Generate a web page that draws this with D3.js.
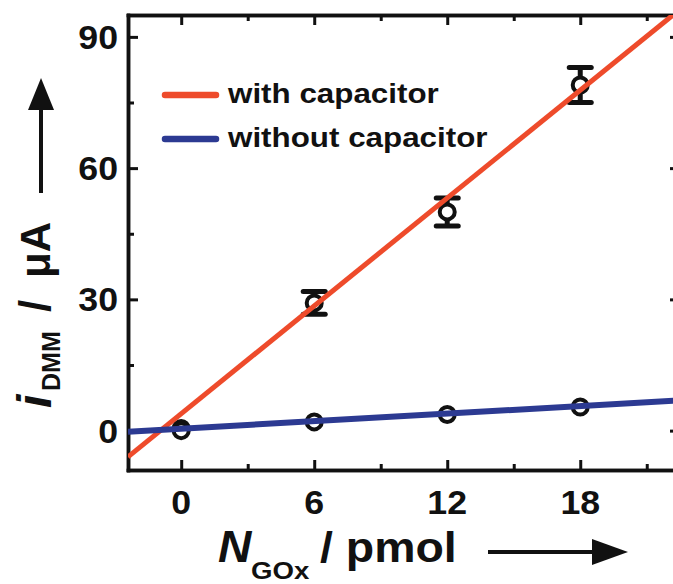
<!DOCTYPE html>
<html>
<head>
<meta charset="utf-8">
<script src="https://cdn.jsdelivr.net/npm/d3@7"></script>
<style>
body { margin: 0; background: #fff; }
text { font-family: "Liberation Sans", Arial, sans-serif; font-weight: bold; fill: #111; }
</style>
</head>
<body>
<script>
// values
var nGOx = [0, 6, 12, 18];
var withCap = [0.5, 29.2, 50, 79];
var withCapErr = [0, 2.6, 3.2, 4];
var withoutCap = [0, 2, 3.7, 5.4];
// fitted lines, end points as read at the plot edges
var fitX = [-2.4, 22.5];
var withCapFit = [-6, 96.3];
var withoutCapFit = [-0.25, 6.9];
var xTicks = [0, 6, 12, 18];
var xMinor = [3, 9, 15, 21];
var yTicks = [0, 30, 60, 90];
var yMinor = [15, 45, 75];
var seriesNames = ["with capacitor", "without capacitor"];
var seriesColors = ["#ee4b2b", "#2c3a92"];

var W = 673, H = 584;

var svg = d3.select("body").append("svg")
    .attr("width", W)
    .attr("height", H);

var x = d3.scaleLinear().domain([-2.4, 22.5]).range([128, 680]);
var y = d3.scaleLinear().domain([-9, 95]).range([470, 15]);

// text helper (sx = horizontal stretch, text in the figure is a bit wide)
function label(g, px, py, str, size, anchor, sx, extra) {
    return g.append("text")
        .attr("transform", "translate(" + px + "," + py + ") " + (extra || "") + " scale(" + (sx || 1) + ",1)")
        .attr("font-size", size)
        .attr("text-anchor", anchor || "start")
        .text(str);
}

//axes, ticks pointing inwards
function styleAxis(g) {
    g.selectAll("text").remove();
    g.select(".domain").attr("stroke", "#111").attr("stroke-width", 3.5).attr("stroke-linecap", "square");
    g.selectAll(".tick line").attr("stroke", "#111").attr("stroke-width", 3);
}
var axes = [
    [d3.axisBottom, "translate(0,470)", x, xTicks, xMinor],
    [d3.axisTop, "translate(0,15)", x, xTicks, xMinor],
    [d3.axisLeft, "translate(128,0)", y, yTicks, yMinor],
    [d3.axisRight, "translate(680,0)", y, yTicks, yMinor]
];
axes.forEach(function(a) {
    svg.append("g").attr("transform", a[1])
        .call(a[0](a[2]).tickValues(a[4]).tickSize(-6).tickSizeOuter(0).tickFormat(""))
        .call(styleAxis);
    svg.append("g").attr("transform", a[1])
        .call(a[0](a[2]).tickValues(a[3]).tickSize(-10).tickSizeOuter(0).tickFormat(""))
        .call(styleAxis);
});

// tick labels
var labels = svg.append("g");
xTicks.forEach(function(v) { label(labels, x(v), 514, v, 34, "middle", 1.05); });
yTicks.forEach(function(v) { label(labels, 118, y(v) + 12, v, 34, "end", 1.05); });

// plot content
svg.append("clipPath").attr("id", "plotclip")
  .append("rect")
    .attr("x", x.range()[0]).attr("y", y.range()[1])
    .attr("width", x.range()[1] - x.range()[0])
    .attr("height", y.range()[0] - y.range()[1]);

var plot = svg.append("g").attr("clip-path", "url(#plotclip)");

// error bars
var errData = nGOx.map(function(d, i) { return {x: d, v: withCap[i], e: withCapErr[i]}; })
    .filter(function(d) { return d.e > 0; });
var eb = plot.selectAll(".eb").data(errData).enter().append("g")
    .attr("stroke", "#111").attr("stroke-width", 5);
eb.append("line")
    .attr("x1", function(d) { return x(d.x); }).attr("x2", function(d) { return x(d.x); })
    .attr("y1", function(d) { return y(d.v - d.e); }).attr("y2", function(d) { return y(d.v + d.e); });
[-1, 1].forEach(function(s) {
    eb.append("line")
        .attr("stroke-linecap", "round")
        .attr("x1", function(d) { return x(d.x) - 11; }).attr("x2", function(d) { return x(d.x) + 11; })
        .attr("y1", function(d) { return y(d.v + s * d.e); }).attr("y2", function(d) { return y(d.v + s * d.e); });
});

// points
[withCap, withoutCap].forEach(function(vals) {
    plot.selectAll(null).data(vals).enter().append("circle")
        .attr("cx", function(d, i) { return x(nGOx[i]); })
        .attr("cy", function(d) { return y(d); })
        .attr("r", 7.5)
        .attr("fill", "#fff")
        .attr("stroke", "#111")
        .attr("stroke-width", 4);
});

// fit lines
var line = d3.line().x(function(d) { return x(d[0]); }).y(function(d) { return y(d[1]); });
[withCapFit, withoutCapFit].forEach(function(f, i) {
    plot.append("path")
        .datum(fitX.map(function(v, j) { return [v, f[j]]; }))
        .attr("d", line)
        .attr("fill", "none")
        .attr("stroke", seriesColors[i])
        .attr("stroke-width", i == 0 ? 5 : 6);
});

// legend
var leg = svg.append("g");
seriesNames.forEach(function(name, i) {
    var ly = 95 + i * 44;
    leg.append("line")
        .attr("x1", 165).attr("x2", 216).attr("y1", ly).attr("y2", ly)
        .attr("stroke", seriesColors[i]).attr("stroke-width", 6.5).attr("stroke-linecap", "round");
    label(leg, 228, ly + 8, name, 28, "start", 1.12);
});

// x axis title
var xt = svg.append("g");
label(xt, 218, 562, "N", 44, "start", 1.05).attr("font-style", "italic");
label(xt, 251, 579, "GOx", 24, "start", 1.15);
label(xt, 320, 562, "/ pmol", 43, "start", 1.08);
xt.append("line").attr("x1", 488).attr("x2", 598).attr("y1", 552).attr("y2", 552)
    .attr("stroke", "#111").attr("stroke-width", 4);
xt.append("path").attr("d", "M592,539 L628,552 L592,565 Z").attr("fill", "#111");

// y axis title, rotated
var yt = svg.append("g");
label(yt, 51, 408, "i", 48, "start", 1, "rotate(-90)").attr("font-style", "italic");
label(yt, 60, 391, "DMM", 25, "start", 1, "rotate(-90)");
label(yt, 50, 312, "/", 44, "start", 1, "rotate(-90)");
label(yt, 50, 278, "\u03bcA", 42, "start", 1, "rotate(-90)");
yt.append("line").attr("x1", 41).attr("x2", 41).attr("y1", 193).attr("y2", 104)
    .attr("stroke", "#111").attr("stroke-width", 4);
yt.append("path").attr("d", "M28,110 L41,78 L54,110 Z").attr("fill", "#111");
</script>
</body>
</html>
